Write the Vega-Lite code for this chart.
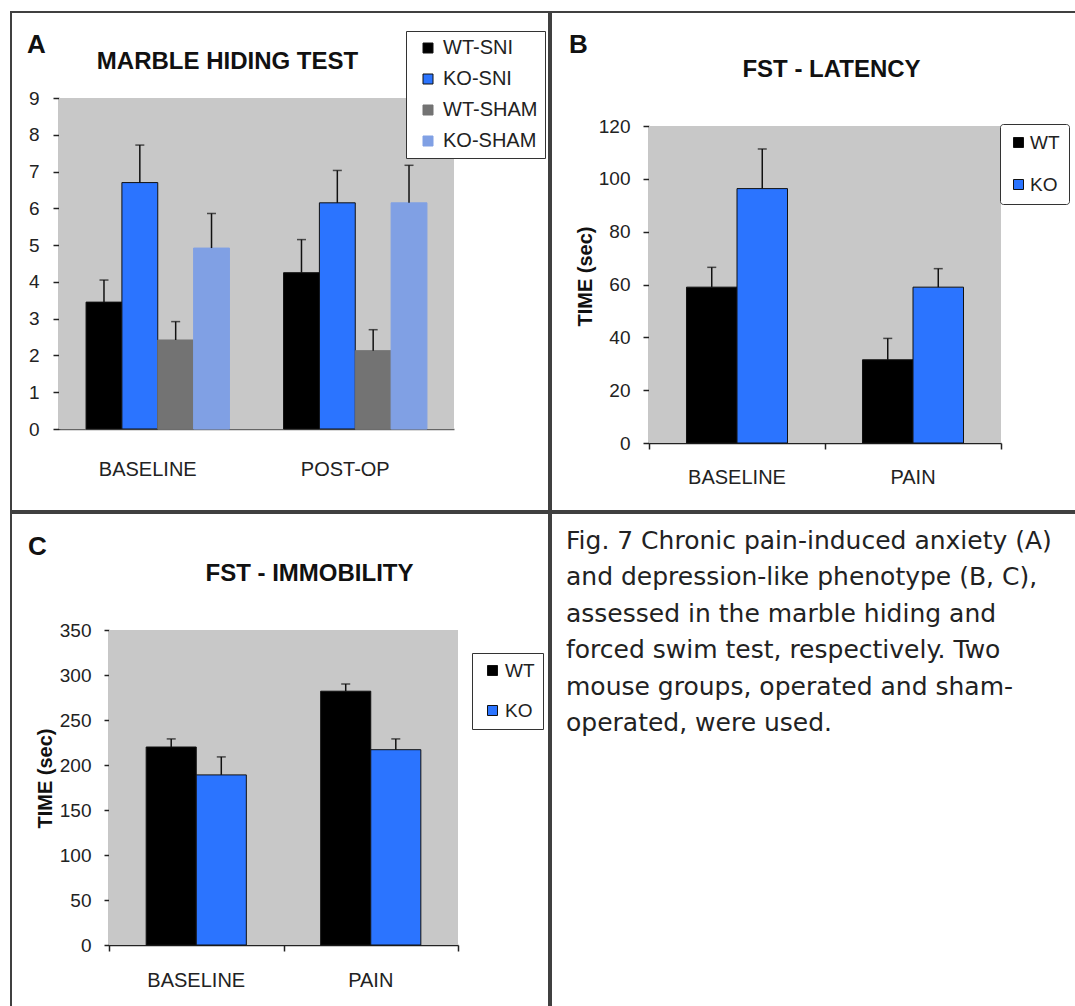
{
  "$schema": "https://vega.github.io/schema/vega-lite/v6.json",
  "background": "white",
  "padding": {"left": 10, "top": 11, "right": 0, "bottom": 0},
  "spacing": 0,
  "resolve": {"scale": {"color": "independent", "stroke": "independent", "xOffset": "independent"}, "legend": {"color": "independent", "stroke": "independent"}},
  "datasets": {
    "marble": [
      {"phase": "BASELINE", "group": "WT-SNI", "mean": 3.45, "upper": 4.05},
      {"phase": "BASELINE", "group": "KO-SNI", "mean": 6.7, "upper": 7.72},
      {"phase": "BASELINE", "group": "WT-SHAM", "mean": 2.42, "upper": 2.92},
      {"phase": "BASELINE", "group": "KO-SHAM", "mean": 4.92, "upper": 5.86},
      {"phase": "POST-OP", "group": "WT-SNI", "mean": 4.25, "upper": 5.15},
      {"phase": "POST-OP", "group": "KO-SNI", "mean": 6.15, "upper": 7.03},
      {"phase": "POST-OP", "group": "WT-SHAM", "mean": 2.13, "upper": 2.7},
      {"phase": "POST-OP", "group": "KO-SHAM", "mean": 6.15, "upper": 7.17}
    ],
    "latency": [
      {"phase": "BASELINE", "group": "WT", "mean": 59, "upper": 66.5},
      {"phase": "BASELINE", "group": "KO", "mean": 96.3, "upper": 111.3},
      {"phase": "PAIN", "group": "WT", "mean": 31.5, "upper": 39.6},
      {"phase": "PAIN", "group": "KO", "mean": 59, "upper": 66}
    ],
    "immobility": [
      {"phase": "BASELINE", "group": "WT", "mean": 220, "upper": 229},
      {"phase": "BASELINE", "group": "KO", "mean": 189, "upper": 209},
      {"phase": "PAIN", "group": "WT", "mean": 282, "upper": 290},
      {"phase": "PAIN", "group": "KO", "mean": 217, "upper": 229}
    ],
    "caption": [
      {"line": 1, "text": "Fig. 7 Chronic pain-induced anxiety (A)"},
      {"line": 2, "text": "and depression-like phenotype (B, C),"},
      {"line": 3, "text": "assessed in the marble hiding and"},
      {"line": 4, "text": "forced swim test, respectively. Two"},
      {"line": 5, "text": "mouse groups, operated and sham-"},
      {"line": 6, "text": "operated, were used."}
    ]
  },
  "vconcat": [
    {
      "spacing": 0,
      "resolve": {"scale": {"color": "independent", "stroke": "independent", "xOffset": "independent"}, "legend": {"color": "independent", "stroke": "independent"}},
      "hconcat": [
        {
          "width": 538,
          "height": 499,
          "resolve": {"scale": {"x": "independent"}},
          "layer": [
            {
              "data": {"values": [{"area": "plot"}]},
              "mark": {"type": "rect", "fill": "#c8c8c8"},
              "encoding": {
                "x": {"datum": 0, "type": "quantitative", "scale": {"domain": [0, 1], "range": [48, 443]},
                  "axis": {"orient": "top", "title": "A", "domain": false, "ticks": false, "labels": false, "grid": false,
                    "titleX": 25, "titleY": 32, "titleAngle": 0, "titleAlign": "center", "titleBaseline": "middle",
                    "titleFontSize": 26, "titleFontWeight": "bold"}},
                "x2": {"datum": 1},
                "y": {"datum": 0, "type": "quantitative", "title": null,
                  "scale": {"domain": [0, 9], "range": [417, 86], "nice": false},
                  "axis": {"offset": -48, "values": [0,1,2,3,4,5,6,7,8,9], "format": "d", "tickSize": 6, "labelPadding": 14}},
                "y2": {"datum": 9}
              }
            },
            {
              "data": {"name": "marble"},
              "layer": [
                {
                  "mark": {"type": "bar", "strokeWidth": 1},
                  "encoding": {
                    "x": {"field": "phase", "type": "nominal", "title": "MARBLE HIDING TEST",
                      "scale": {"range": [48, 443], "paddingInner": 0.274, "paddingOuter": 0.137},
                      "axis": {"orient": "bottom", "offset": -82, "ticks": false, "labelAngle": 0, "labelFontSize": 20,
                        "labelBaseline": "middle", "labelPadding": 40, "labelOffset": -10, "domainColor": "#666",
                        "titleX": 216, "titleY": -368, "titleAngle": 0, "titleAlign": "center", "titleBaseline": "middle",
                        "titleFontSize": 24, "titleFontWeight": "bold"}},
                    "xOffset": {"field": "group", "type": "nominal", "sort": ["WT-SNI", "KO-SNI", "WT-SHAM", "KO-SHAM"], "scale": {"paddingInner": 0, "paddingOuter": 0}},
                    "y": {"field": "mean", "type": "quantitative", "title": null},
                    "color": {"field": "group", "type": "nominal", "title": null,
                      "scale": {"domain": ["WT-SNI", "KO-SNI", "WT-SHAM", "KO-SHAM"], "range": ["#000000", "#2b74ff", "#737373", "#80a0e4"]},
                      "legend": {"orient": "none", "legendX": 395, "legendY": 19, "padding": 7, "rowPadding": 11, "symbolOffset": 5, "labelOffset": 5}},
                    "stroke": {"field": "group", "type": "nominal", "title": null,
                      "scale": {"domain": ["WT-SNI", "KO-SNI", "WT-SHAM", "KO-SHAM"], "range": ["#111111", "#111111", "#737373", "#80a0e4"]},
                      "legend": {"orient": "none", "legendX": 395, "legendY": 19, "padding": 7, "rowPadding": 11, "symbolOffset": 5, "labelOffset": 5}}
                  }
                },
                {
                  "mark": {"type": "rule", "color": "#111", "strokeWidth": 1.5},
                  "encoding": {
                    "x": {"field": "phase", "type": "nominal", "title": "MARBLE HIDING TEST"},
                    "xOffset": {"field": "group", "type": "nominal", "sort": ["WT-SNI", "KO-SNI", "WT-SHAM", "KO-SHAM"]},
                    "y": {"field": "mean", "type": "quantitative", "title": null},
                    "y2": {"field": "upper"}
                  }
                },
                {
                  "mark": {"type": "tick", "color": "#111", "thickness": 1.5, "size": 9},
                  "encoding": {
                    "x": {"field": "phase", "type": "nominal", "title": "MARBLE HIDING TEST"},
                    "xOffset": {"field": "group", "type": "nominal", "sort": ["WT-SNI", "KO-SNI", "WT-SHAM", "KO-SHAM"]},
                    "y": {"field": "upper", "type": "quantitative", "title": null}
                  }
                }
              ]
            }
          ]
        },
        {
          "width": 527,
          "height": 499,
          "resolve": {"scale": {"x": "independent"}},
          "layer": [
            {
              "data": {"values": [{"area": "plot"}]},
              "mark": {"type": "rect", "fill": "#c8c8c8"},
              "encoding": {
                "x": {"datum": 0, "type": "quantitative", "scale": {"domain": [0, 1], "range": [98, 450]},
                  "axis": {"orient": "bottom", "offset": -68, "title": "B", "domain": false, "ticks": true, "tickSize": 6, "labels": false, "grid": false,
                    "values": [0, 0.5, 1],
                    "titleX": 27, "titleY": -399, "titleAngle": 0, "titleAlign": "center", "titleBaseline": "middle",
                    "titleFontSize": 26, "titleFontWeight": "bold"}},
                "x2": {"datum": 1},
                "y": {"datum": 0, "type": "quantitative", "title": "TIME (sec)",
                  "scale": {"domain": [0, 120], "range": [431, 114], "nice": false},
                  "axis": {"offset": -98, "values": [0,20,40,60,80,100,120], "tickSize": 6, "labelPadding": 13,
                    "titleX": -64, "titleY": 264, "titleAngle": -90, "titleAlign": "center", "titleBaseline": "middle",
                    "titleFontSize": 20, "titleFontWeight": "bold"}},
                "y2": {"datum": 120}
              }
            },
            {
              "data": {"name": "latency"},
              "layer": [
                {
                  "mark": {"type": "bar", "stroke": "#111", "strokeWidth": 1},
                  "encoding": {
                    "x": {"field": "phase", "type": "nominal", "title": "FST - LATENCY",
                      "scale": {"range": [98, 450], "paddingInner": 0.426, "paddingOuter": 0.213},
                      "axis": {"orient": "bottom", "offset": -68, "ticks": false, "labelAngle": 0, "labelFontSize": 20,
                        "labelBaseline": "middle", "labelPadding": 34,
                        "titleX": 280, "titleY": -374, "titleAngle": 0, "titleAlign": "center", "titleBaseline": "middle",
                        "titleFontSize": 24, "titleFontWeight": "bold"}},
                    "xOffset": {"field": "group", "type": "nominal", "sort": ["WT", "KO"], "scale": {"paddingInner": 0, "paddingOuter": 0}},
                    "y": {"field": "mean", "type": "quantitative", "title": "TIME (sec)"},
                    "color": {"field": "group", "type": "nominal", "title": null,
                      "scale": {"domain": ["WT", "KO"], "range": ["#000000", "#2b74ff"]},
                      "legend": {"orient": "none", "legendX": 449, "legendY": 112, "padding": 9, "rowPadding": 22, "symbolOffset": 0, "labelOffset": 2, "labelFontSize": 19, "cornerRadius": 3}}
                  }
                },
                {
                  "mark": {"type": "rule", "color": "#111", "strokeWidth": 1.5},
                  "encoding": {
                    "x": {"field": "phase", "type": "nominal", "title": "FST - LATENCY"},
                    "xOffset": {"field": "group", "type": "nominal", "sort": ["WT", "KO"]},
                    "y": {"field": "mean", "type": "quantitative", "title": "TIME (sec)"},
                    "y2": {"field": "upper"}
                  }
                },
                {
                  "mark": {"type": "tick", "color": "#111", "thickness": 1.5, "size": 9},
                  "encoding": {
                    "x": {"field": "phase", "type": "nominal", "title": "FST - LATENCY"},
                    "xOffset": {"field": "group", "type": "nominal", "sort": ["WT", "KO"]},
                    "y": {"field": "upper", "type": "quantitative", "title": "TIME (sec)"}
                  }
                }
              ]
            }
          ]
        }
      ]
    },
    {
      "spacing": 0,
      "resolve": {"scale": {"color": "independent", "stroke": "independent", "xOffset": "independent"}, "legend": {"color": "independent", "stroke": "independent"}},
      "hconcat": [
        {
          "width": 538,
          "height": 496,
          "resolve": {"scale": {"x": "independent"}},
          "layer": [
            {
              "data": {"values": [{"area": "plot"}]},
              "mark": {"type": "rect", "fill": "#c8c8c8"},
              "encoding": {
                "x": {"datum": 0, "type": "quantitative", "scale": {"domain": [0, 1], "range": [98, 447]},
                  "axis": {"orient": "bottom", "offset": -64, "title": "C", "domain": false, "ticks": true, "tickSize": 6, "labels": false, "grid": false,
                    "values": [0, 0.5, 1],
                    "titleX": 26, "titleY": -399, "titleAngle": 0, "titleAlign": "center", "titleBaseline": "middle",
                    "titleFontSize": 26, "titleFontWeight": "bold"}},
                "x2": {"datum": 1},
                "y": {"datum": 0, "type": "quantitative", "title": "TIME (sec)",
                  "scale": {"domain": [0, 350], "range": [432, 117], "nice": false},
                  "axis": {"offset": -98, "values": [0,50,100,150,200,250,300,350], "tickSize": 5, "labelPadding": 13,
                    "titleX": -64, "titleY": 265, "titleAngle": -90, "titleAlign": "center", "titleBaseline": "middle",
                    "titleFontSize": 20, "titleFontWeight": "bold"}},
                "y2": {"datum": 350}
              }
            },
            {
              "data": {"name": "immobility"},
              "layer": [
                {
                  "mark": {"type": "bar", "stroke": "#111", "strokeWidth": 1},
                  "encoding": {
                    "x": {"field": "phase", "type": "nominal", "title": "FST - IMMOBILITY",
                      "scale": {"range": [98, 447], "paddingInner": 0.426, "paddingOuter": 0.213},
                      "axis": {"orient": "bottom", "offset": -64, "ticks": false, "labelAngle": 0, "labelFontSize": 20,
                        "labelBaseline": "middle", "labelPadding": 35,
                        "titleX": 298, "titleY": -372, "titleAngle": 0, "titleAlign": "center", "titleBaseline": "middle",
                        "titleFontSize": 24, "titleFontWeight": "bold"}},
                    "xOffset": {"field": "group", "type": "nominal", "sort": ["WT", "KO"], "scale": {"paddingInner": 0, "paddingOuter": 0}},
                    "y": {"field": "mean", "type": "quantitative", "title": "TIME (sec)"},
                    "color": {"field": "group", "type": "nominal", "title": null,
                      "scale": {"domain": ["WT", "KO"], "range": ["#000000", "#2b74ff"]},
                      "legend": {"orient": "none", "legendX": 461, "legendY": 140, "padding": 8, "rowPadding": 20, "symbolOffset": 3, "labelOffset": 3, "labelFontSize": 19}}
                  }
                },
                {
                  "mark": {"type": "rule", "color": "#111", "strokeWidth": 1.5},
                  "encoding": {
                    "x": {"field": "phase", "type": "nominal", "title": "FST - IMMOBILITY"},
                    "xOffset": {"field": "group", "type": "nominal", "sort": ["WT", "KO"]},
                    "y": {"field": "mean", "type": "quantitative", "title": "TIME (sec)"},
                    "y2": {"field": "upper"}
                  }
                },
                {
                  "mark": {"type": "tick", "color": "#111", "thickness": 1.5, "size": 9},
                  "encoding": {
                    "x": {"field": "phase", "type": "nominal", "title": "FST - IMMOBILITY"},
                    "xOffset": {"field": "group", "type": "nominal", "sort": ["WT", "KO"]},
                    "y": {"field": "upper", "type": "quantitative", "title": "TIME (sec)"}
                  }
                }
              ]
            }
          ]
        },
        {
          "width": 527,
          "height": 496,
          "data": {"name": "caption"},
          "mark": {"type": "text", "align": "left", "baseline": "middle", "x": 15, "fontSize": 25, "font": "DejaVu Sans", "color": "#222"},
          "encoding": {
            "y": {"field": "line", "type": "ordinal", "scale": {"type": "point", "range": [28, 210], "padding": 0}, "axis": null},
            "text": {"field": "text"}
          }
        }
      ]
    }
  ],
  "config": {
    "font": "Liberation Sans",
    "view": {"stroke": "#404040", "strokeWidth": 2},
    "axis": {"grid": false, "domainColor": "#222", "tickColor": "#222", "labelColor": "#222", "titleColor": "#111",
      "labelFontSize": 19, "domainWidth": 1.5, "tickWidth": 1.5},
    "legend": {"symbolType": "square", "symbolSize": 100, "labelFontSize": 20, "labelColor": "#222",
      "strokeColor": "#333", "fillColor": "white", "symbolStrokeWidth": 1, "symbolStrokeColor": "#111", "direction": "vertical"}
  }
}
